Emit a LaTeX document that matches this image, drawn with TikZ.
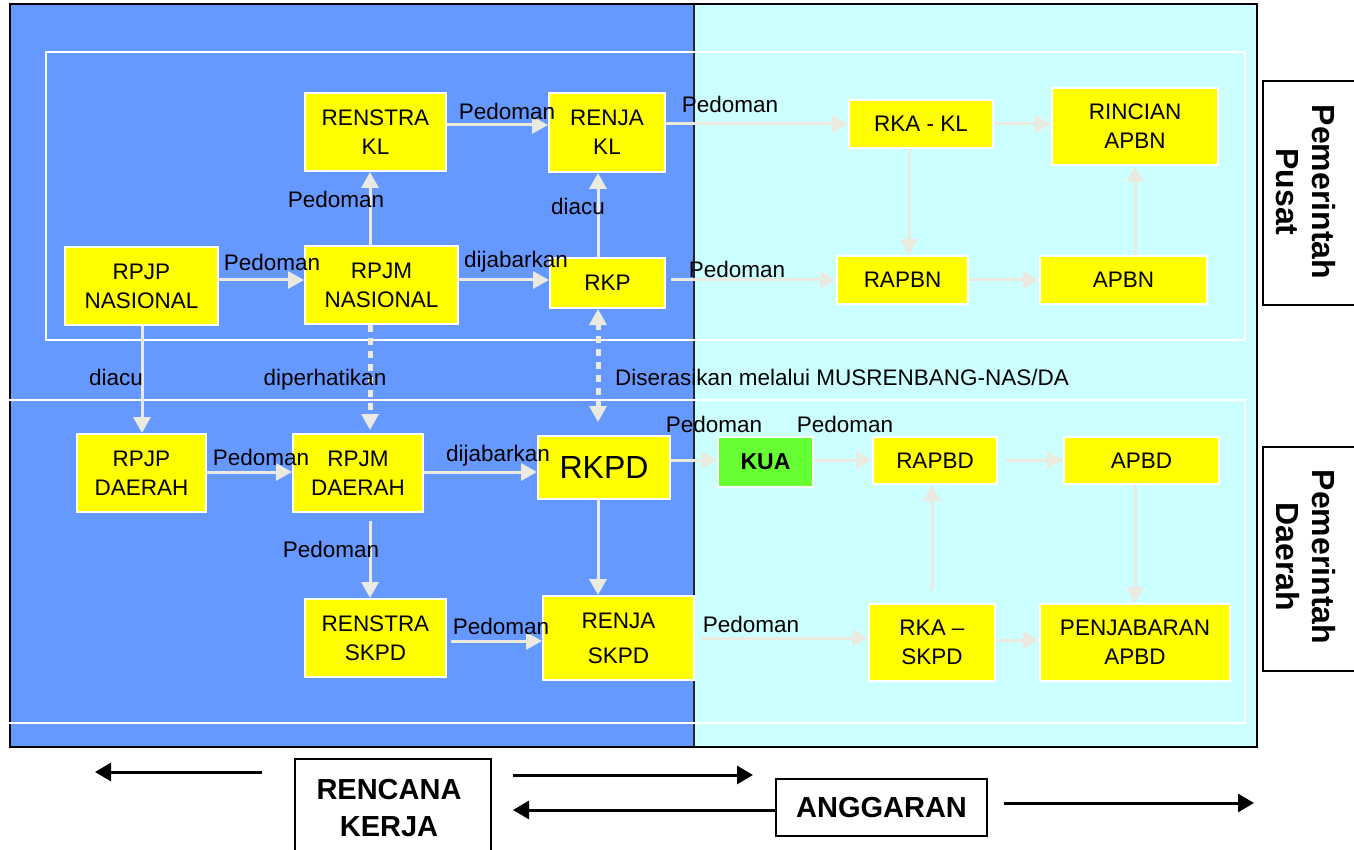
\documentclass[tikz,border=0pt]{standalone}
\usepackage{fontspec}
\setmainfont{Liberation Sans}
\usetikzlibrary{arrows.meta}
\definecolor{bgblue}{HTML}{6699FF}
\definecolor{bgcyan}{HTML}{CCFFFF}
\definecolor{boxyel}{HTML}{FFFF00}
\definecolor{kuagreen}{HTML}{66FF33}
\definecolor{congrey}{HTML}{EAEAE0}
\begin{document}
\begin{tikzpicture}[x=1pt,y=-1pt,
  yb/.style={draw=white, line width=2pt, fill=boxyel, inner sep=0pt, align=center, font=\fontsize{22.5}{29}\selectfont},
  lab/.style={anchor=base, inner sep=0pt, font=\fontsize{22.5}{27}\selectfont},
  con/.style={draw=congrey, line width=3pt, -{Triangle[length=16pt,width=17pt]}},
  dots/.style={draw=congrey, line width=5pt, dash pattern=on 7pt off 6pt},
  barrow/.style={draw=black, line width=3pt, -{Triangle[length=16pt,width=18pt]}},
  lbox/.style={draw=black, line width=2pt, fill=white, inner sep=0pt},
  btext/.style={inner sep=0pt, align=center, font=\fontsize{29}{37}\selectfont\bfseries},
  ptext/.style={inner sep=0pt, align=center, rotate=-90, font=\fontsize{32}{36}\selectfont\bfseries},
]
\useasboundingbox (0,0) rectangle (1354,850);
\clip (0,0) rectangle (1354,850);
\fill[white] (0,0) rectangle (1354,850);
% backgrounds
\fill[bgblue] (10,4) rectangle (694,747);
\fill[bgcyan] (694,4) rectangle (1257,747);
\draw[black!85, line width=1.5pt] (694,4) -- (694,747);
\draw[black, line width=2.5pt] (10,4) rectangle (1257,747);
\draw[white, line width=2pt] (46,52) rectangle (1245,340);
\draw[white, line width=2pt] (8,400) rectangle (1245,723);
% side boxes
\draw[lbox] (1263,81) rectangle (1372,305);
\node[ptext] (pusat) at (1306,192) {Pemerintah\\Pusat};
\draw[lbox] (1263,447) rectangle (1372,671);
\node[ptext] (daerah) at (1306,557) {Pemerintah\\Daerah};
% nodes top
\node[yb, minimum width=141pt, minimum height=78pt] (rensKL) at (375.5,132) {RENSTRA\\KL};
\node[yb, minimum width=116pt, minimum height=79pt] (renjaKL) at (607,132.5) {RENJA\\KL};
\node[yb, minimum width=153pt, minimum height=78pt] (rpjpN) at (141.5,286) {RPJP\\NASIONAL};
\node[yb, minimum width=153pt, minimum height=78pt] (rpjmN) at (381.5,285) {RPJM\\NASIONAL};
\node[yb, minimum width=115pt, minimum height=50pt] (rkp) at (607.5,283) {RKP};
\node[yb, minimum width=144pt, minimum height=48pt] (rkaKL) at (921,124) {RKA - KL};
\node[yb, minimum width=166pt, minimum height=77pt] (rincian) at (1135,126.5) {RINCIAN\\APBN};
\node[yb, minimum width=131pt, minimum height=48pt] (rapbn) at (902.5,280) {RAPBN};
\node[yb, minimum width=167pt, minimum height=48pt] (apbn) at (1123.5,280) {APBN};
% nodes bottom
\node[yb, minimum width=129pt, minimum height=78pt] (rpjpD) at (141.5,473) {RPJP\\DAERAH};
\node[yb, minimum width=130pt, minimum height=78pt] (rpjmD) at (358,473) {RPJM\\DAERAH};
\node[yb, minimum width=132pt, minimum height=63pt, font=\fontsize{32}{36}\selectfont] (rkpd) at (604,467.5) {RKPD};
\node[yb, minimum width=141pt, minimum height=78pt] (rensS) at (375.5,638) {RENSTRA\\SKPD};
\node[yb, minimum width=151pt, minimum height=84pt, font=\fontsize{22.5}{35}\selectfont] (renjaS) at (618.5,638) {RENJA\\SKPD};
\node[yb, fill=kuagreen, minimum width=95pt, minimum height=50pt, font=\fontsize{23}{27}\selectfont\bfseries] (kua) at (765.5,462) {KUA};
\node[yb, minimum width=124pt, minimum height=47pt] (rapbd) at (935,460.5) {RAPBD};
\node[yb, minimum width=155pt, minimum height=47pt] (apbd) at (1141.5,460.5) {APBD};
\node[yb, minimum width=126pt, minimum height=77pt] (rkaS) at (932,642.5) {RKA --\\SKPD};
\node[yb, minimum width=190pt, minimum height=77pt] (penj) at (1135,642.5) {PENJABARAN\\APBD};
% connectors top
\draw[con] (rpjpN.east |- 0,280) -- (rpjmN.west |- 0,280);
\draw[con] (rpjmN.east |- 0,280) -- (rkp.west |- 0,280);
\draw[con] (rpjmN.north -| 370,0) -- (rensKL.south -| 370,0);
\draw[con] (rensKL.east |- 0,125) -- (renjaKL.west |- 0,125);
\draw[con] (rkp.north -| 598,0) -- (renjaKL.south -| 598,0);
\draw[con] (renjaKL.east |- 0,124) -- (rkaKL.west |- 0,124);
\draw[con, shorten <=5pt] (rkp.east |- 0,280) -- (rapbn.west |- 0,280);
\draw[con] (rkaKL.south -| 909,0) -- (rapbn.north -| 909,0);
\draw[con] (rkaKL.east |- 0,124) -- (rincian.west |- 0,124);
\draw[con] (apbn.north -| 1135,0) -- (rincian.south -| 1135,0);
\draw[con] (rapbn.east |- 0,280) -- (apbn.west |- 0,280);
% connectors between levels
\draw[con] (rpjpN.south -| 142,0) -- (rpjpD.north -| 142,0);
\draw[dots] (rpjmN.south -| 370,0) -- ([yshift=14pt]rpjmD.north -| 370,0);
\draw[con] ([yshift=17pt]rpjmD.north -| 370,0) -- ([yshift=3pt]rpjmD.north -| 370,0);
\draw[dots] ([yshift=-14pt]rkp.south -| 598,0) -- ([yshift=28pt]rkpd.north -| 598,0);
\draw[con] ([yshift=-17pt]rkp.south -| 598,0) -- (rkp.south -| 598,0);
\draw[con] ([yshift=31pt]rkpd.north -| 598,0) -- ([yshift=13pt]rkpd.north -| 598,0);
% connectors bottom
\draw[con] (rpjpD.east |- 0,472) -- (rpjmD.west |- 0,472);
\draw[con] (rpjmD.east |- 0,472) -- (rkpd.west |- 0,472);
\draw[con] (rkpd.east |- 0,460) -- (kua.west |- 0,460);
\draw[con] (kua.east |- 0,460) -- (rapbd.west |- 0,460);
\draw[con, shorten <=8pt] (rapbd.east |- 0,460) -- (apbd.west |- 0,460);
\draw[con, shorten <=8pt] (rpjmD.south -| 370,0) -- (rensS.north -| 370,0);
\draw[con, shorten <=4pt] (rensS.east |- 0,641) -- (renjaS.west |- 0,641);
\draw[con] (rkpd.south -| 598,0) -- (renjaS.north -| 598,0);
\draw[con, shorten <=6pt] (renjaS.east |- 0,638) -- (rkaS.west |- 0,638);
\draw[con, shorten <=13pt] (rkaS.north -| 932,0) -- (rapbd.south -| 932,0);
\draw[con] (apbd.south -| 1135,0) -- (penj.north -| 1135,0);
\draw[con] (rkaS.east |- 0,640) -- (penj.west |- 0,640);
% labels
\node[lab] (l1) at (507,120) {Pedoman};
\node[lab] (l2) at (730,113) {Pedoman};
\node[lab] (l3) at (336,208) {Pedoman};
\node[lab] (l4) at (578,215) {diacu};
\node[lab] (l5) at (272,271) {Pedoman};
\node[lab] (l6) at (516,268) {dijabarkan};
\node[lab] (l7) at (737,277) {Pedoman};
\node[lab] (l8) at (116,385) {diacu};
\node[lab] (l9) at (325,385) {diperhatikan};
\node[lab, anchor=base west] (l10) at (615,385) {Diserasikan melalui MUSRENBANG-NAS/DA};
\node[lab] (l11) at (261,465) {Pedoman};
\node[lab] (l12) at (498,461) {dijabarkan};
\node[lab] (l13) at (714,432) {Pedoman};
\node[lab] (l14) at (845,432) {Pedoman};
\node[lab] (l15) at (331,557) {Pedoman};
\node[lab] (l16) at (501,634) {Pedoman};
\node[lab] (l17) at (751,632) {Pedoman};
% bottom legend
\draw[lbox] (295,759) rectangle (491,860);
\node[btext] (rk) at (389,808) {RENCANA\\KERJA};
\node[lbox, minimum width=211pt, minimum height=57pt] (ang) at (881.5,807.5) {};
\node[btext] (angt) at (881.5,808) {ANGGARAN};
\coordinate (a1s) at (262,772);
\coordinate (a1e) at (95,772);
\coordinate (a2s) at (513,775);
\coordinate (a2e) at (753,775);
\coordinate (a3e) at (513,810);
\coordinate (a4s) at (1004,803);
\coordinate (a4e) at (1254,803);
\draw[barrow] (a1s) -- (a1e);
\draw[barrow] (a2s) -- (a2e);
\draw[barrow] (ang.west |- a3e) -- (a3e);
\draw[barrow] (a4s) -- (a4e);
\end{tikzpicture}
\end{document}
